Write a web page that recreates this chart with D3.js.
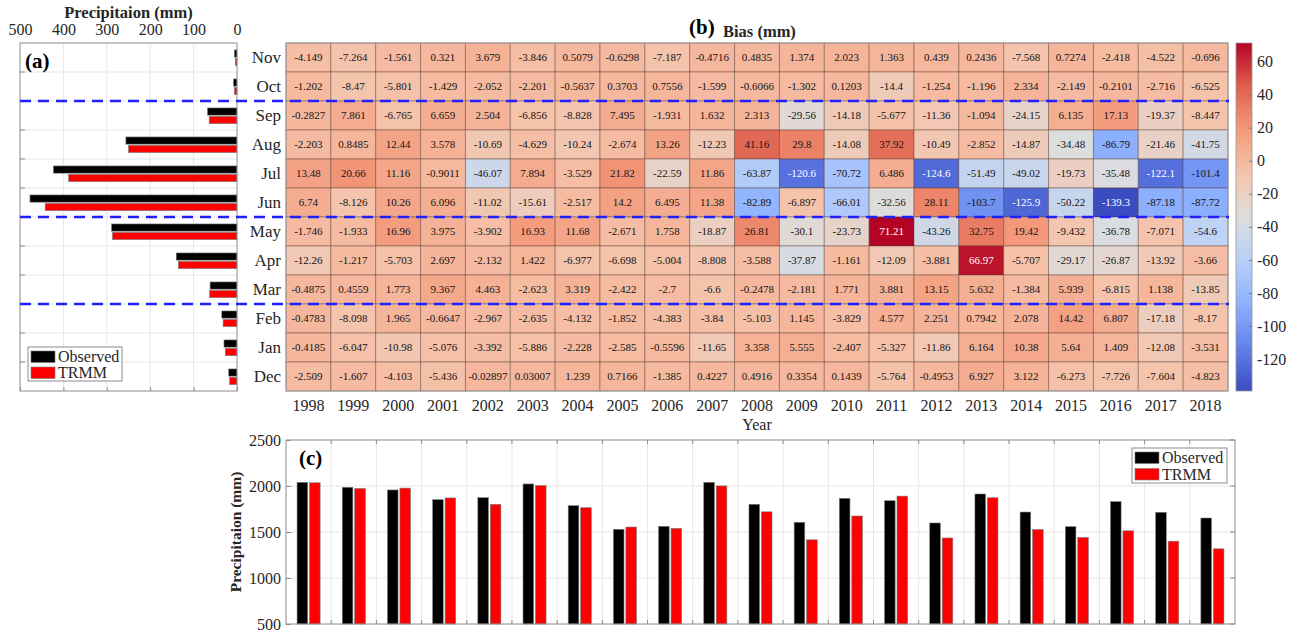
<!DOCTYPE html>
<html>
<head>
<meta charset="utf-8">
<script src="https://cdn.jsdelivr.net/npm/d3@7"></script>
<style>
  body { margin: 0; background: #fff; }
  svg { display: block; font-family: "Liberation Serif", "Times New Roman", serif; }
</style>
</head>
<body>
<svg id="fig" width="1301" height="632"></svg>
<script>
// ---------------- data ----------------
const years = [1998, 1999, 2000, 2001, 2002, 2003, 2004, 2005, 2006, 2007, 2008,
               2009, 2010, 2011, 2012, 2013, 2014, 2015, 2016, 2017, 2018];
const months = ["Nov", "Oct", "Sep", "Aug", "Jul", "Jun", "May", "Apr", "Mar", "Feb", "Jan", "Dec"];
const seriesNames = ["Observed", "TRMM"];

// monthly bias (TRMM - observed), mm, one array per month, 1998..2018
const biasNov = [-4.149, -7.264, -1.561, 0.321, 3.679, -3.846, 0.5079, -0.6298, -7.187, -0.4716, 0.4835, 1.374, 2.023, 1.363, 0.439, 0.2436, -7.568, 0.7274, -2.418, -4.522, -0.696];
const biasOct = [-1.202, -8.47, -5.801, -1.429, -2.052, -2.201, -0.5637, 0.3703, 0.7556, -1.599, -0.6066, -1.302, 0.1203, -14.4, -1.254, -1.196, 2.334, -2.149, -0.2101, -2.716, -6.525];
const biasSep = [-0.2827, 7.861, -6.765, 6.659, 2.504, -6.856, -8.828, 7.495, -1.931, 1.632, 2.313, -29.56, -14.18, -5.677, -11.36, -1.094, -24.15, 6.135, 17.13, -19.37, -8.447];
const biasAug = [-2.203, 0.8485, 12.44, 3.578, -10.69, -4.629, -10.24, -2.674, 13.26, -12.23, 41.16, 29.8, -14.08, 37.92, -10.49, -2.852, -14.87, -34.48, -86.79, -21.46, -41.75];
const biasJul = [13.48, 20.66, 11.16, -0.9011, -46.07, 7.894, -3.529, 21.82, -22.59, 11.86, -63.87, -120.6, -70.72, 6.486, -124.6, -51.49, -49.02, -19.73, -35.48, -122.1, -101.4];
const biasJun = [6.74, -8.126, 10.26, 6.096, -11.02, -15.61, -2.517, 14.2, 6.495, 11.38, -82.89, -6.897, -66.01, -32.56, 28.11, -103.7, -125.9, -50.22, -139.3, -87.18, -87.72];
const biasMay = [-1.746, -1.933, 16.96, 3.975, -3.902, 16.93, 11.68, -2.671, 1.758, -18.87, 26.81, -30.1, -23.73, 71.21, -43.26, 32.75, 19.42, -9.432, -36.78, -7.071, -54.6];
const biasApr = [-12.26, -1.217, -5.703, 2.697, -2.132, 1.422, -6.977, -6.698, -5.004, -8.808, -3.588, -37.87, -1.161, -12.09, -3.881, 66.97, -5.707, -29.17, -26.87, -13.92, -3.66];
const biasMar = [-0.4875, 0.4559, 1.773, 9.367, 4.463, -2.623, 3.319, -2.422, -2.7, -6.6, -0.2478, -2.181, 1.771, 3.881, 13.15, 5.632, -1.384, 5.939, -6.815, 1.138, -13.85];
const biasFeb = [-0.4783, -8.098, 1.965, -0.6647, -2.967, -2.635, -4.132, -1.852, -4.383, -3.84, -5.103, 1.145, -3.829, 4.577, 2.251, 0.7942, 2.078, 14.42, 6.807, -17.18, -8.17];
const biasJan = [-0.4185, -6.047, -10.98, -5.076, -3.392, -5.886, -2.228, -2.585, -0.5596, -11.65, 3.358, 5.555, -2.407, -5.327, -11.86, 6.164, 10.38, 5.64, 1.409, -12.08, -3.531];
const biasDec = [-2.509, -1.607, -4.103, -5.436, -0.02897, 0.03007, 1.239, 0.7166, -1.385, 0.4227, 0.4916, 0.3354, 0.1439, -5.764, -0.4953, 6.927, 3.122, -6.273, -7.726, -7.604, -4.823];

// mean monthly precipitation (mm), same month order as above
const monthlyObserved = [6, 8, 68, 256, 423, 477, 289, 140, 62, 35, 30, 19];
const monthlyTRMM     = [4, 6, 64, 250, 388, 442, 287, 135, 63, 32, 27, 17];

// annual precipitation (mm)
const annualObserved = [2040, 1986, 1957, 1851, 1873, 2022, 1786, 1529, 1562, 2040, 1801, 1605, 1866, 1840, 1598, 1913, 1717, 1558, 1830, 1714, 1652];
const annualTRMM     = [2035, 1973, 1977, 1870, 1801, 2004, 1764, 1554, 1539, 2001, 1719, 1415, 1674, 1890, 1435, 1872, 1526, 1440, 1513, 1400, 1317];

// season boundaries (first month of each block, drawn as dashed lines)
const seasonStarts = ["Sep", "May", "Feb"];

const precipTicks = [500, 400, 300, 200, 100, 0];
const biasTicks = [60, 40, 20, 0, -20, -40, -60, -80, -100, -120];
const annualTicks = [500, 1000, 1500, 2000, 2500];

// ---------------- styling ----------------
const seriesColors = ["#000000", "#ff0000"];
const TXT = "#262626", FRAME = "#8c8c8c", GRID = "#e6e6e6", BAR_EDGE = "#7a7a7a";
const coolwarm = ["#3b4cc0", "#6282ea", "#8db0fe", "#b8d0f9", "#dddddd", "#f5c4ac", "#f49a7b", "#de604d", "#b40426"];

const fmt = d3.formatLocale({ decimal: ".", thousands: ",", grouping: [3], currency: ["", ""], minus: "-" }).format;
const numFmt = fmt(".4~g");
const intFmt = fmt("d");

const svg = d3.select("#fig");

// layout boxes
const A = { x0: 20, x1: 237, y0: 43, y1: 391 };     // monthly precipitation bars
const H = { x0: 286, x1: 1228, y0: 43, y1: 391 };   // bias heatmap
const CB = { x0: 1236, x1: 1252, y0: 43, y1: 391 }; // colour bar
const C = { x0: 286, x1: 1235, y0: 440, y1: 624 };  // annual bars

// ================= (a) monthly precipitation =================
const xA = d3.scaleLinear().domain([500, 0]).range([A.x0, A.x1]);
const yRow = d3.scaleBand().domain(months).range([A.y0, A.y1]);
const ySub = d3.scaleBand().domain(seriesNames)
  .range([yRow.bandwidth() * 0.24, yRow.bandwidth() * 0.78]).paddingInner(0.15);

const gA = svg.append("g").attr("class", "panel-a");

gA.append("g").selectAll("line").data(precipTicks.filter(d => d > 0 && d < 500)).join("line")
  .attr("x1", d => xA(d)).attr("x2", d => xA(d)).attr("y1", A.y0).attr("y2", A.y1)
  .attr("stroke", GRID).attr("stroke-width", 1);
gA.append("g").selectAll("line").data(months.slice(1)).join("line")
  .attr("x1", A.x0).attr("x2", A.x1).attr("y1", d => yRow(d)).attr("y2", d => yRow(d))
  .attr("stroke", GRID).attr("stroke-width", 1);

const monthly = months.map((m, i) => ({ m, vals: [monthlyObserved[i], monthlyTRMM[i]] }));
gA.append("g").selectAll("g").data(monthly).join("g")
  .attr("transform", d => `translate(0,${yRow(d.m)})`)
  .selectAll("rect").data(d => d.vals.map((v, k) => ({ v, k }))).join("rect")
  .attr("x", d => xA(d.v)).attr("width", d => xA(0) - xA(d.v))
  .attr("y", d => ySub(seriesNames[d.k])).attr("height", ySub.bandwidth())
  .attr("fill", d => seriesColors[d.k]).attr("stroke", BAR_EDGE).attr("stroke-width", 0.6);

// inward ticks
gA.append("g").selectAll("line").data(months.slice(1)).join("line")
  .attr("x1", A.x0).attr("x2", A.x0 + 5).attr("y1", d => yRow(d)).attr("y2", d => yRow(d))
  .attr("stroke", FRAME);
gA.append("g").attr("transform", `translate(0,${A.y1})`)
  .call(d3.axisBottom(xA).tickValues(precipTicks).tickSize(-4).tickFormat(""))
  .call(g => g.select(".domain").remove())
  .call(g => g.selectAll("line").attr("stroke", FRAME));

// top tick labels
gA.append("g").attr("transform", `translate(0,${A.y0})`)
  .call(d3.axisTop(xA).tickValues(precipTicks).tickSize(0).tickPadding(8).tickFormat(intFmt))
  .call(g => g.select(".domain").remove())
  .call(g => g.selectAll("text").attr("fill", TXT).style("font-size", "16px")
    .style("font-family", "Liberation Serif, serif"));

gA.append("rect").attr("x", A.x0).attr("y", A.y0).attr("width", A.x1 - A.x0).attr("height", A.y1 - A.y0)
  .attr("fill", "none").attr("stroke", FRAME).attr("stroke-width", 1);

gA.append("text").attr("x", (A.x0 + A.x1) / 2).attr("y", 18).attr("text-anchor", "middle")
  .attr("font-weight", "bold").attr("font-size", 16.5).attr("fill", TXT).text("Precipitaion (mm)");
gA.append("text").attr("x", 25).attr("y", 68).attr("font-weight", "bold").attr("font-size", 21)
  .attr("fill", "#000").text("(a)");

// legend box with one swatch per series
function legend(g, x, y, w, h) {
  g.append("rect").attr("x", x).attr("y", y).attr("width", w).attr("height", h)
    .attr("fill", "#fff").attr("stroke", FRAME).attr("stroke-width", 1);
  const rowH = h / 2;
  const items = g.selectAll("g.item").data(seriesNames).join("g").attr("class", "item")
    .attr("transform", (d, i) => `translate(${x + 3},${y + 2 + i * (rowH - 1)})`);
  items.append("rect").attr("x", 0).attr("y", 2).attr("width", 24).attr("height", 11.5)
    .attr("fill", (d, i) => seriesColors[i]).attr("stroke", BAR_EDGE).attr("stroke-width", 0.6);
  items.append("text").attr("x", 27).attr("y", 13).attr("font-size", 16).attr("fill", TXT).text(d => d);
}
legend(gA.append("g"), 28, 347, 94, 34);

// month labels
svg.append("g").selectAll("text").data(months).join("text")
  .attr("x", 281).attr("y", d => yRow(d) + yRow.bandwidth() / 2).attr("dy", "0.35em")
  .attr("text-anchor", "end").attr("font-size", 17).attr("fill", TXT).text(d => d);

// ================= (b) bias heatmap =================
const biasRows = [biasNov, biasOct, biasSep, biasAug, biasJul, biasJun, biasMay, biasApr, biasMar, biasFeb, biasJan, biasDec];
const cells = [];
months.forEach((m, i) => years.forEach((yr, j) => cells.push({ m, yr, v: biasRows[i][j] })));

const xYear = d3.scaleBand().domain(years).range([H.x0, H.x1]);
const ext = d3.extent(cells, d => d.v);
const color = d3.scaleLinear()
  .domain(coolwarm.map((c, i) => ext[0] + (ext[1] - ext[0]) * i / (coolwarm.length - 1)))
  .range(coolwarm).interpolate(d3.interpolateRgb);

const gH = svg.append("g").attr("class", "heatmap");
const cellG = gH.selectAll("g").data(cells).join("g")
  .attr("transform", d => `translate(${xYear(d.yr)},${yRow(d.m)})`);
cellG.append("rect").attr("width", xYear.bandwidth()).attr("height", yRow.bandwidth())
  .attr("fill", d => color(d.v)).attr("stroke", "rgba(80,55,45,0.42)").attr("stroke-width", 1);
cellG.append("text").attr("x", xYear.bandwidth() / 2).attr("y", yRow.bandwidth() / 2).attr("dy", "0.35em")
  .attr("text-anchor", "middle").attr("font-size", 11)
  .attr("fill", d => d3.lab(color(d.v)).l < 55 ? "#ffffff" : "#141414")
  .text(d => numFmt(d.v));
gH.append("rect").attr("x", H.x0).attr("y", H.y0).attr("width", H.x1 - H.x0).attr("height", H.y1 - H.y0)
  .attr("fill", "none").attr("stroke", "#9a9a9a").attr("stroke-width", 1);

// year axis
gH.append("g").attr("transform", `translate(0,${H.y1})`)
  .call(d3.axisBottom(xYear).tickSize(0).tickPadding(8.6).tickFormat(d => String(d)))
  .call(g => g.select(".domain").remove())
  .call(g => g.selectAll("text").attr("fill", TXT).style("font-size", "16px")
    .style("font-family", "Liberation Serif, serif"));
gH.append("text").attr("x", (H.x0 + H.x1) / 2).attr("y", 430).attr("text-anchor", "middle")
  .attr("font-size", 16).attr("fill", TXT).text("Year");

// title
gH.append("text").attr("x", 689).attr("y", 34).attr("font-weight", "bold").attr("font-size", 21)
  .attr("fill", "#000").text("(b)");
gH.append("text").attr("x", 723).attr("y", 37).attr("font-weight", "bold").attr("font-size", 16.5)
  .attr("fill", TXT).text("Bias (mm)");

// colour bar
const yCB = d3.scaleLinear().domain(ext).range([CB.y1, CB.y0]);
const defs = svg.append("defs");
const grad = defs.append("linearGradient").attr("id", "cbGrad")
  .attr("x1", 0).attr("y1", 1).attr("x2", 0).attr("y2", 0);
grad.selectAll("stop").data(d3.range(0, 1.0001, 0.02)).join("stop")
  .attr("offset", d => d).attr("stop-color", d => color(ext[0] + d * (ext[1] - ext[0])));
svg.append("rect").attr("x", CB.x0).attr("y", CB.y0).attr("width", CB.x1 - CB.x0).attr("height", CB.y1 - CB.y0)
  .attr("fill", "url(#cbGrad)").attr("stroke", "#9a9a9a").attr("stroke-width", 0.8);
svg.append("g").attr("transform", `translate(${CB.x1},0)`)
  .call(d3.axisRight(yCB).tickValues(biasTicks).tickSize(-3).tickPadding(5).tickFormat(intFmt))
  .call(g => g.select(".domain").remove())
  .call(g => g.selectAll("line").attr("stroke", "#777"))
  .call(g => g.selectAll("text").attr("fill", TXT).style("font-size", "16px")
    .style("font-family", "Liberation Serif, serif"));

// season separators
svg.append("g").selectAll("line").data(seasonStarts).join("line")
  .attr("x1", A.x0).attr("x2", H.x1 + 1).attr("y1", d => yRow(d)).attr("y2", d => yRow(d))
  .attr("stroke", "#1f1fff").attr("stroke-width", 2.6).attr("stroke-dasharray", "11,7");

// ================= (c) annual precipitation =================
const xC = d3.scaleBand().domain(years).range([C.x0, C.x1]);
const xSubC = d3.scaleBand().domain(seriesNames)
  .range([xC.bandwidth() * 0.245, xC.bandwidth() * 0.755]).paddingInner(0.15);
const yC = d3.scaleLinear().domain([annualTicks[0], annualTicks[annualTicks.length - 1]]).range([C.y1, C.y0]);

const gC = svg.append("g").attr("class", "panel-c");
gC.append("g").selectAll("line").data(annualTicks.slice(1, -1)).join("line")
  .attr("x1", C.x0).attr("x2", C.x1).attr("y1", d => yC(d)).attr("y2", d => yC(d))
  .attr("stroke", GRID);
gC.append("g").selectAll("line").data(years.slice(1)).join("line")
  .attr("x1", d => xC(d)).attr("x2", d => xC(d)).attr("y1", C.y0).attr("y2", C.y1)
  .attr("stroke", GRID);

const annual = years.map((yr, i) => ({ yr, vals: [annualObserved[i], annualTRMM[i]] }));
gC.append("g").selectAll("g").data(annual).join("g")
  .attr("transform", d => `translate(${xC(d.yr)},0)`)
  .selectAll("rect").data(d => d.vals.map((v, k) => ({ v, k }))).join("rect")
  .attr("x", d => xSubC(seriesNames[d.k])).attr("width", xSubC.bandwidth())
  .attr("y", d => yC(d.v)).attr("height", d => yC(annualTicks[0]) - yC(d.v))
  .attr("fill", d => seriesColors[d.k]).attr("stroke", BAR_EDGE).attr("stroke-width", 0.6);

// inward ticks on all sides
gC.append("g").selectAll("line").data(years.slice(1)).join("line")
  .attr("x1", d => xC(d)).attr("x2", d => xC(d)).attr("y1", C.y0).attr("y2", C.y0 + 4).attr("stroke", FRAME);
gC.append("g").selectAll("line").data(years.slice(1)).join("line")
  .attr("x1", d => xC(d)).attr("x2", d => xC(d)).attr("y1", C.y1).attr("y2", C.y1 - 4).attr("stroke", FRAME);
gC.append("g").selectAll("line").data(annualTicks).join("line")
  .attr("x1", C.x1).attr("x2", C.x1 - 5).attr("y1", d => yC(d)).attr("y2", d => yC(d)).attr("stroke", FRAME);

gC.append("g").attr("transform", `translate(${C.x0},0)`)
  .call(d3.axisLeft(yC).tickValues(annualTicks).tickSize(-5).tickPadding(5).tickFormat(intFmt))
  .call(g => g.select(".domain").remove())
  .call(g => g.selectAll("line").attr("stroke", FRAME))
  .call(g => g.selectAll("text").attr("fill", TXT).style("font-size", "16px")
    .style("font-family", "Liberation Serif, serif"));

gC.append("rect").attr("x", C.x0).attr("y", C.y0).attr("width", C.x1 - C.x0).attr("height", C.y1 - C.y0)
  .attr("fill", "none").attr("stroke", FRAME).attr("stroke-width", 1);

gC.append("text").attr("transform", `translate(241,${(C.y0 + C.y1) / 2}) rotate(-90)`)
  .attr("text-anchor", "middle").attr("font-weight", "bold").attr("font-size", 15.5)
  .attr("fill", TXT).text("Precipitaion (mm)");
gC.append("text").attr("x", 299).attr("y", 465).attr("font-weight", "bold").attr("font-size", 21)
  .attr("fill", "#000").text("(c)");

legend(gC.append("g"), 1132, 448, 95, 35);
</script>
</body>
</html>
